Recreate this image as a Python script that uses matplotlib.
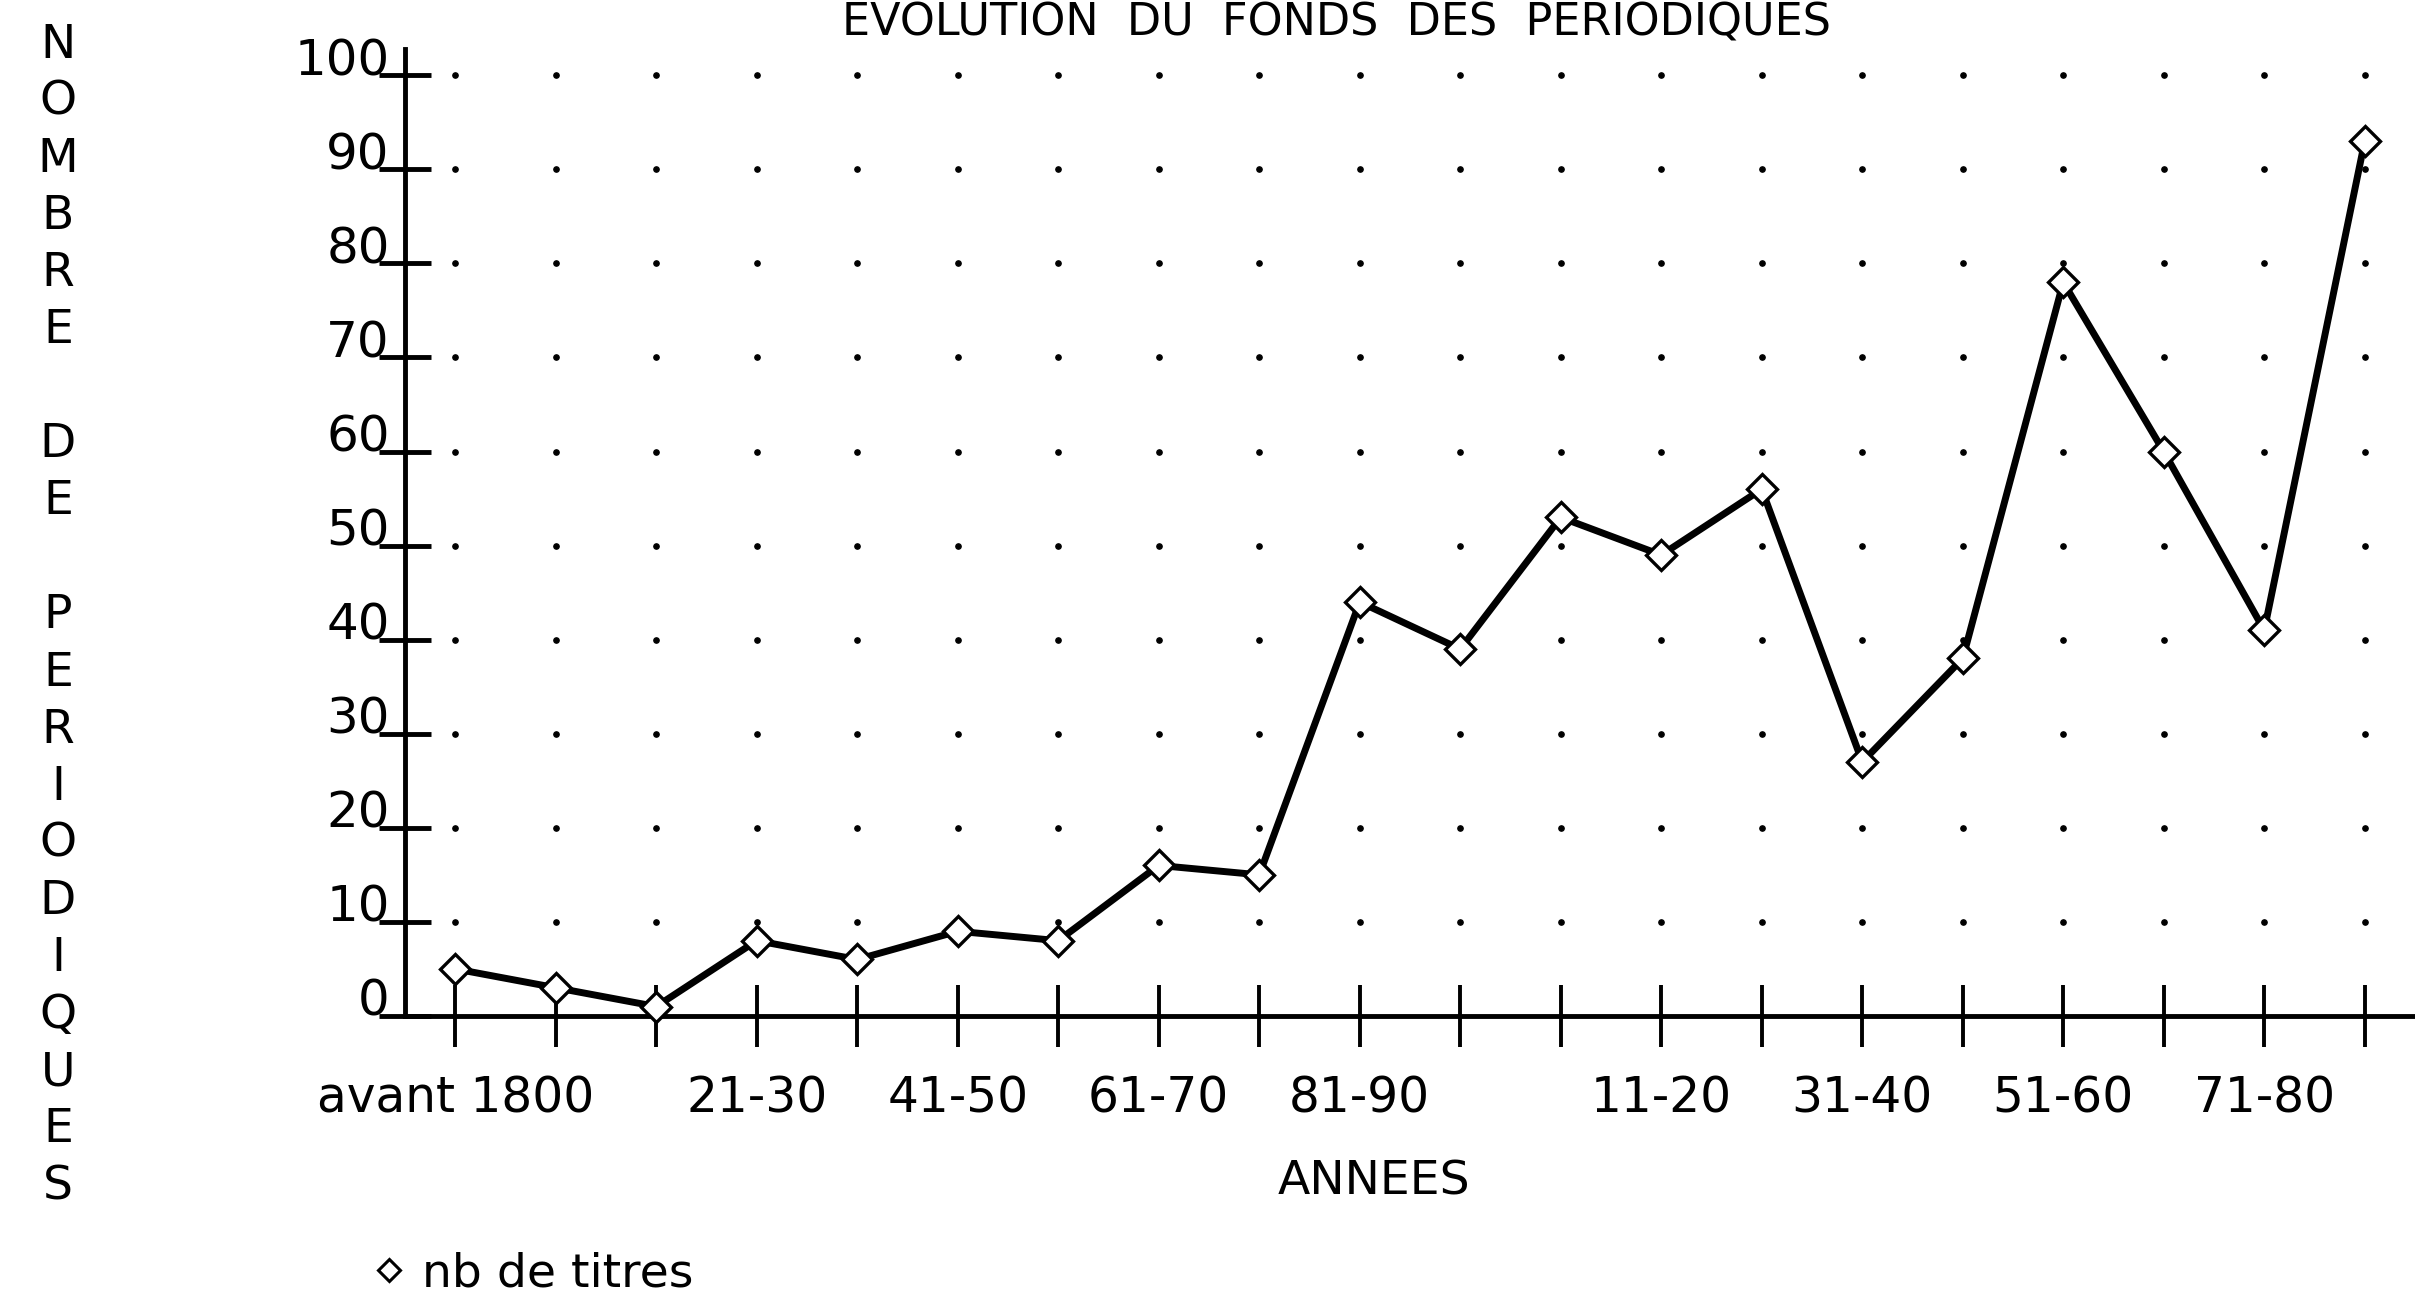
import matplotlib
matplotlib.use("Agg")
import matplotlib.pyplot as plt
from matplotlib.lines import Line2D
import numpy as np

# data
categories = ["avant 1800", "01-10", "11-20", "21-30", "31-40", "41-50", "51-60",
              "61-70", "71-80", "81-90", "91-1900", "1901-10", "11-20", "21-30",
              "31-40", "41-50", "51-60", "61-70", "71-80", "81-90"]
nb_titres = [5, 3, 1, 8, 6, 9, 8, 16, 15, 44, 39, 53, 49, 56, 27, 38, 78, 60, 41, 93]
shown_labels = [0, 3, 5, 7, 9, 12, 14, 16, 18]   # labels the old chart actually printed
yticks = list(range(0, 101, 10))

plt.rcParams['font.family'] = ['DejaVu Sans']

fig = plt.figure(figsize=(24.15, 12.97), dpi=100)
ax = fig.add_axes([0.1677, 0.2167, 0.8323, 0.7456])

x = np.arange(len(categories))

# dotted grid: one dot per category on each y gridline
gx, gy = np.meshgrid(x, yticks[1:])
ax.plot(gx.ravel(), gy.ravel(), linestyle='None', marker='o', ms=3.8,
        color='black', zorder=1, clip_on=False)

ax.plot(x, nb_titres, color='black', lw=5, marker='D', ms=15.5,
        mfc='white', mec='black', mew=2.4, zorder=3, clip_on=False)

ax.set_xlim(-0.5, 19.5)
ax.set_ylim(0, 102.8)

for s in ['top', 'right']:
    ax.spines[s].set_visible(False)
for s in ['left', 'bottom']:
    ax.spines[s].set_linewidth(3.5)

ax.set_xticks(x)
ax.set_xticklabels([c if i in shown_labels else "" for i, c in enumerate(categories)])
ax.set_yticks(yticks)
ax.set_yticklabels([str(v) for v in yticks], va='baseline')

ax.tick_params(axis='x', direction='inout', length=44, width=2.8, pad=20, labelsize=35)
ax.tick_params(axis='y', direction='inout', length=37, width=3.5, pad=-7.5, labelsize=36)

# title sits right at the top edge, as on the scan
fig.text(0.5536, 0.999, "EVOLUTION  DU  FONDS  DES  PERIODIQUES",
         ha='center', va='top', fontsize=32)

fig.text(0.569, 0.0887, "ANNEES", ha='center', va='center', fontsize=34)

# stacked y label
ylab = "NOMBRE DE PERIODIQUES"
for i, ch in enumerate(ylab):
    if ch != " ":
        fig.text(58 / 2415, 1 - (45 + i * 57.1) / 1297, ch,
                 ha='center', va='center', fontsize=34)

handle = Line2D([], [], linestyle='None', marker='D', ms=11,
                mfc='white', mec='black', mew=2.2)
fig.legend(handles=[handle], labels=["nb de titres"], loc='center left',
           bbox_to_anchor=(375 / 2415, 1 - 1274 / 1297), frameon=False,
           fontsize=34, borderpad=0, borderaxespad=0,
           handlelength=0.6, handletextpad=0.4)

fig.savefig("out.png", dpi=100, facecolor='white')
